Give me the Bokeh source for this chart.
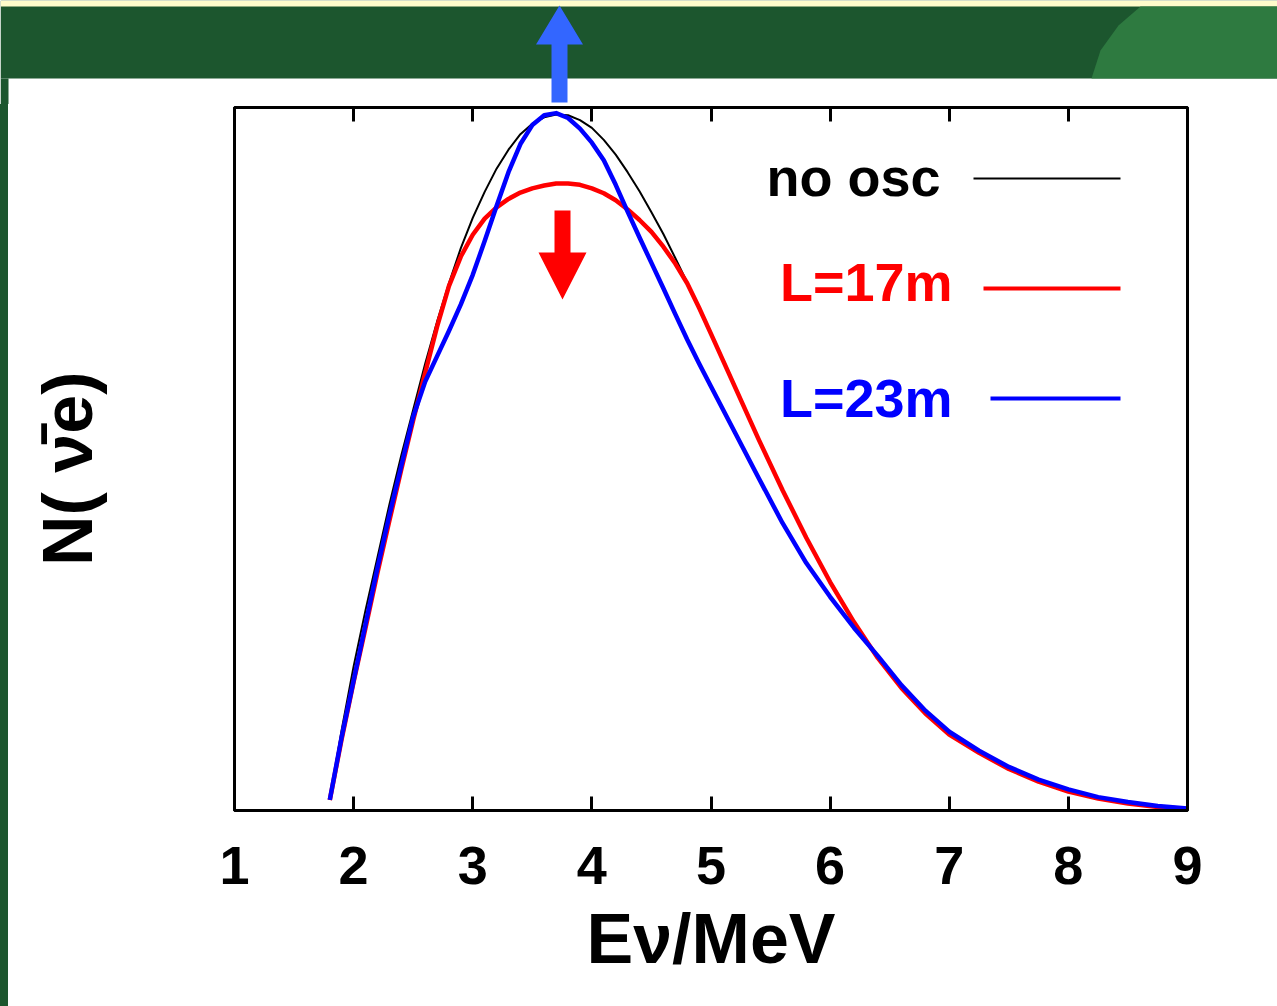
import numpy as np
from bokeh.plotting import figure
from bokeh.layouts import column, row
from bokeh.models import (Range1d, LinearAxis, FixedTicker, Label, PolyAnnotation,
                          CustomJSTickFormatter, Spacer)
from bokeh.embed import file_html
from bokeh.resources import INLINE

# ---------------- data ----------------
energy = [1.8, 1.9, 2.0, 2.1, 2.2, 2.3, 2.4, 2.5, 2.6, 2.7, 2.8, 2.9,
          3.0, 3.1, 3.2, 3.3, 3.4, 3.5, 3.6, 3.7, 3.8, 3.9,
          4.0, 4.1, 4.2, 4.3, 4.4, 4.5, 4.6, 4.7, 4.8, 4.9,
          5.0, 5.2, 5.4, 5.6, 5.8, 6.0, 6.2, 6.4, 6.6, 6.8,
          7.0, 7.25, 7.5, 7.75, 8.0, 8.25, 8.5, 8.75, 9.0]

no_osc = [1.5, 11.5, 20.5, 28.5, 36.0, 43.5, 50.5, 57.0, 63.5, 69.5, 75.0, 80.0,
          84.3, 88.0, 91.3, 94.0, 96.2, 97.7, 98.6, 99.0, 98.9, 98.2,
          97.1, 95.4, 93.3, 90.8, 88.1, 85.1, 82.0, 78.6, 75.1, 71.5,
          67.8, 60.3, 52.8, 45.6, 38.8, 32.5, 26.8, 21.8, 17.5, 13.9,
          10.9, 8.3, 6.0, 4.2, 2.8, 1.8, 1.1, 0.6, 0.25]

l17 = [1.5, 10.2, 18.3, 26.0, 33.8, 41.2, 48.5, 55.5, 62.2, 68.8, 74.6, 78.8,
       81.9, 84.2, 85.8, 87.0, 87.9, 88.5, 88.9, 89.2, 89.2, 89.0,
       88.5, 87.8, 86.8, 85.5, 84.0, 82.3, 80.2, 77.8, 75.0, 71.5,
       67.8, 60.3, 52.8, 45.6, 38.8, 32.5, 26.8, 21.7, 17.4, 13.8,
       10.8, 8.2, 5.9, 4.1, 2.7, 1.7, 1.0, 0.5, 0.2]

l23 = [1.5, 10.5, 18.5, 26.5, 34.5, 42.0, 49.0, 56.0, 61.0, 64.6, 68.2, 72.0,
       76.2, 81.0, 86.0, 90.8, 94.8, 97.5, 98.9, 99.2, 98.5, 97.0,
       95.0, 92.5, 89.0, 85.2, 81.5, 77.9, 74.3, 70.6, 67.0, 63.6,
       60.3, 53.8, 47.3, 40.9, 35.2, 30.4, 26.0, 22.0, 17.8, 14.2,
       11.2, 8.5, 6.2, 4.4, 3.0, 1.9, 1.2, 0.65, 0.3]

x_ticks = [1, 2, 3, 4, 5, 6, 7, 8, 9]
series_names = ["no osc", "L=17m", "L=23m"]
series_colors = ["black", "#ff0000", "#0000ff"]

GREEN = "#1c562e"
PAGE_W, PAGE_H = 1277, 1006
BANNER_H = 104
STRIP_W = 8

# ---------------- main figure ----------------
MAIN_W, MAIN_H = PAGE_W - STRIP_W, PAGE_H - BANNER_H
p = figure(width=MAIN_W, height=MAIN_H, output_backend="svg", toolbar_location=None,
           x_range=Range1d(1, 9), y_range=Range1d(0, 100),
           x_axis_location=None, y_axis_location=None,
           min_border_left=234 - STRIP_W, min_border_right=MAIN_W - (1187 - STRIP_W),
           min_border_top=107 - BANNER_H, min_border_bottom=PAGE_H - 810)
p.grid.visible = False
p.background_fill_color = "white"
p.border_fill_color = "white"
p.outline_line_color = "black"
p.outline_line_width = 3

blank = CustomJSTickFormatter(code="return ''")

bottom = LinearAxis(ticker=FixedTicker(ticks=x_ticks))
bottom.major_tick_in = 14
bottom.major_tick_out = 0
bottom.minor_tick_in = 0
bottom.minor_tick_out = 0
bottom.major_tick_line_width = 3
bottom.axis_line_width = 3
bottom.major_label_text_font = "Liberation Sans"
bottom.major_label_text_font_style = "bold"
bottom.major_label_text_font_size = "54px"
bottom.major_label_text_color = "black"
bottom.major_label_standoff = 36
bottom.axis_label = "Eν/MeV"
bottom.axis_label_text_font = "Liberation Sans"
bottom.axis_label_text_font_style = "bold"
bottom.axis_label_text_font_size = "70px"
bottom.axis_label_text_color = "black"
bottom.axis_label_standoff = 13
p.add_layout(bottom, "below")

top = LinearAxis(ticker=FixedTicker(ticks=x_ticks), formatter=blank)
top.major_tick_in = 14
top.major_tick_out = 0
top.minor_tick_in = 0
top.minor_tick_out = 0
top.major_tick_line_width = 3
top.axis_line_width = 3
top.major_label_standoff = 0
top.major_label_text_font_size = "1px"
p.add_layout(top, "above")

left = LinearAxis(ticker=FixedTicker(ticks=[]), formatter=blank)
left.axis_line_width = 3
left.major_tick_in = 0
left.major_tick_out = 0
left.minor_tick_in = 0
left.minor_tick_out = 0
left.major_label_standoff = 0
left.axis_label = "N(  ν\u0304e)"
left.axis_label_text_font = "Liberation Sans"
left.axis_label_text_font_style = "bold"
left.axis_label_text_font_size = "70px"
left.axis_label_text_color = "black"
left.axis_label_standoff = 128
p.add_layout(left, "left")

# ---------------- curves ----------------
p.line(energy, no_osc, line_color=series_colors[0], line_width=2, line_join="round")
p.line(energy, l17, line_color=series_colors[1], line_width=4.5, line_join="round")
p.line(energy, l23, line_color=series_colors[2], line_width=4.5, line_join="round")

# page-pixel -> data helpers for decorations (frame: x 234..1187, y 107..810 on the page)
def dx(px):
    return 1 + (px - 234) * 8.0 / (1187 - 234)

def dy(py):
    return (810 - py) * 100.0 / (810 - 107)

# red arrow (inside the frame)
rx = 562
p.add_layout(PolyAnnotation(
    xs=[dx(rx - 8), dx(rx + 8), dx(rx + 8), dx(rx + 24), dx(rx), dx(rx - 24), dx(rx - 8)],
    ys=[dy(210), dy(210), dy(252), dy(252), dy(299), dy(252), dy(252)],
    fill_color="#ff0000", fill_alpha=1, line_color=None))

# legend (text left of line sample)
leg_text_x = [940, 952, 952]
leg_text_y = [176, 281, 397]
leg_line_x0 = [973, 983, 990]
leg_line_y = [178, 288, 398]
leg_widths = [2, 4, 4]
for name, col, tx, ty, lx0, ly, lw in zip(series_names, series_colors, leg_text_x,
                                          leg_text_y, leg_line_x0, leg_line_y, leg_widths):
    p.add_layout(Label(x=dx(tx), y=dy(ty), text=name, text_align="right",
                       text_baseline="alphabetic", text_font="Liberation Sans",
                       text_font_style="bold", text_font_size="54px", text_color=col))
    p.line([dx(lx0), dx(1120)], [dy(ly), dy(ly)], line_color=col, line_width=lw)

# ---------------- banner (green header + blue arrow) ----------------
b = figure(width=PAGE_W, height=BANNER_H, output_backend="svg", toolbar_location=None,
           x_range=Range1d(0, PAGE_W), y_range=Range1d(BANNER_H, 0),
           x_axis_location=None, y_axis_location=None, min_border=0)
b.grid.visible = False
b.outline_line_color = None
b.background_fill_color = "white"
b.border_fill_color = "white"
b.quad(left=[0], right=[PAGE_W], top=[0], bottom=[78], fill_color=GREEN, line_color=None)
b.quad(left=[0], right=[PAGE_W], top=[0], bottom=[6], fill_color="#fffccb", line_color=None)
b.patch([1140, 1118, 1100, 1091, PAGE_W, PAGE_W], [6, 25, 50, 78, 78, 6],
        fill_color="#2e7a40", line_color=None)
b.quad(left=[0], right=[STRIP_W], top=[78], bottom=[BANNER_H], fill_color=GREEN, line_color=None)
bx = 559
b.patch([bx - 8, bx + 8, bx + 8, bx + 23.5, bx, bx - 23.5, bx - 8],
        [102, 102, 44, 44, 5, 44, 44], fill_color="#3366ff", line_color=None)

strip = Spacer(width=STRIP_W, height=MAIN_H, styles={"background-color": GREEN})

layout = column(b, row(strip, p, spacing=0), spacing=0)

open("out.html", "w").write(file_html(layout, INLINE))
